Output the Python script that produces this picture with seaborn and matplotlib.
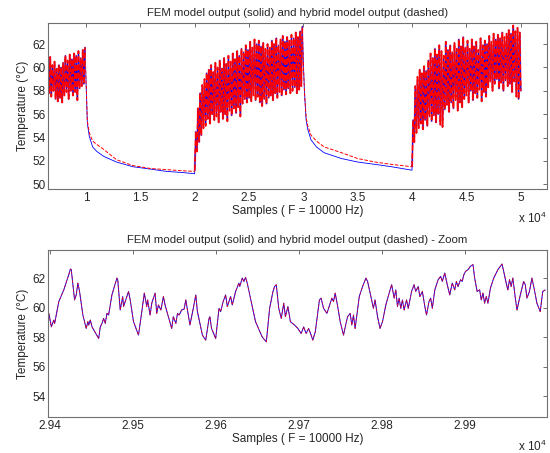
"""
FEM vs hybrid model temperature output, full run and zoomed window.
Values read off the reference figure.
"""

import numpy as np
import pandas as pd
import matplotlib
matplotlib.use('Agg')
import matplotlib.pyplot as plt
import seaborn as sns

# ---- top panel: noisy (heating) segments, 100-sample spacing, read as local peaks/dips
seg1_start = 6500
seg1_temp = [60.6, 57.8, 60.9, 57.5, 60.2, 58.0, 60.5, 57.3, 59.9, 57.1,
             60.2, 57.4, 60.0, 57.0, 60.4, 57.6, 61.0, 57.9, 60.6, 57.3,
             61.1, 58.0, 60.7, 57.6, 61.2, 57.9, 61.0, 57.2, 61.4, 58.2,
             60.8, 58.4, 61.5, 58.6, 61.7]

seg3_start = 20000
seg3_temp = [51.2, 54.5, 52.8, 56.5, 53.6, 57.8, 54.2, 58.5, 54.8, 59.0,
             55.0, 59.5, 55.6, 59.8, 55.2, 60.2, 56.0, 59.6, 55.5, 60.4,
             55.8, 60.0, 55.3, 60.6, 56.2, 59.9, 55.6, 60.8, 56.0, 60.3,
             55.4, 61.0, 56.3, 60.5, 55.9, 61.2, 56.5, 60.7, 56.1, 61.4,
             56.6, 61.0, 55.8, 61.6, 56.9, 61.3, 57.3, 61.9, 57.0, 61.5,
             57.4, 62.2, 57.1, 61.7, 57.6, 62.4, 57.2, 62.0, 57.5, 62.3,
             57.0, 61.8, 56.7, 62.1, 57.3, 61.6, 56.9, 62.0, 57.4, 61.7,
             57.6, 62.3, 57.2, 62.0, 57.8, 62.5, 57.4, 61.9, 57.9, 62.4,
             57.6, 62.7, 58.1, 62.2, 57.7, 62.6, 58.2, 62.3, 57.8, 62.8,
             58.0, 62.5, 58.3, 63.0, 57.8, 62.6, 58.1, 63.1, 58.4, 63.5]

seg5_start = 40000
seg5_temp = [51.5, 55.5, 53.6, 58.4, 54.4, 59.2, 54.8, 59.8, 55.2, 59.5,
             54.7, 60.1, 55.5, 59.7, 55.0, 60.6, 55.8, 61.2, 55.4, 60.8,
             55.9, 61.6, 55.3, 61.1, 56.0, 61.9, 55.1, 61.4, 54.9, 61.0,
             56.4, 62.2, 56.8, 61.5, 56.2, 61.9, 57.0, 61.3, 56.5, 62.1,
             57.2, 61.6, 56.3, 62.4, 57.0, 61.8, 56.6, 62.6, 57.3, 61.7,
             57.6, 62.3, 57.0, 61.6, 58.0, 62.4, 57.2, 61.8, 57.8, 62.2,
             57.4, 61.5, 58.1, 62.5, 57.1, 61.9, 57.9, 62.3, 57.5, 62.0,
             58.3, 62.7, 58.8, 62.2, 58.0, 62.9, 58.6, 62.4, 59.0, 62.8,
             58.2, 62.5, 58.7, 63.0, 58.0, 62.6, 58.9, 62.9, 58.4, 63.2,
             58.6, 62.9, 57.9, 63.6, 58.8, 63.1, 57.5, 63.4, 57.3, 63.0,
             58.0]

# ---- top panel: cooling segments (FEM solid, hybrid dashed)
cool1_samples = [10000, 10120, 10300, 10600, 11000, 11600, 12800, 14300, 15900, 17400, 18900, 19990]
cool1_fem = [58.8, 55.2, 54.1, 53.2, 52.8, 52.4, 51.9, 51.5, 51.3, 51.1, 51.0, 50.9]
cool1_hyb = [58.8, 55.4, 54.4, 53.7, 53.4, 53.0, 52.1, 51.6, 51.35, 51.25, 51.15, 51.1]

cool2_samples = [30000, 30100, 30250, 30400, 30700, 31200, 31900, 33500, 35000, 36600, 38100, 39990]
cool2_fem = [60.2, 57.8, 55.5, 54.7, 53.8, 53.2, 52.7, 52.2, 51.9, 51.7, 51.5, 51.2]
cool2_hyb = [60.2, 57.9, 55.7, 55.0, 54.2, 53.7, 53.2, 52.7, 52.2, 51.9, 51.7, 51.5]

# ---- bottom panel: zoomed window
zoom_samples = [29399, 29402, 29405, 29406, 29411, 29417, 29423, 29425, 29426, 29430,
                29432, 29434, 29436, 29440, 29444, 29446, 29447, 29449, 29451, 29459,
                29461, 29463, 29465, 29467, 29469, 29471, 29475, 29481, 29482, 29485,
                29488, 29489, 29495, 29497, 29501, 29507, 29511, 29514, 29517, 29518,
                29521, 29523, 29527, 29529, 29531, 29534, 29537, 29539, 29547, 29549,
                29552, 29554, 29556, 29559, 29562, 29564, 29567, 29569, 29573, 29576,
                29578, 29584, 29588, 29592, 29593, 29595, 29600, 29604, 29606, 29609,
                29612, 29614, 29618, 29620, 29624, 29628, 29629, 29632, 29634, 29636,
                29638, 29648, 29656, 29661, 29665, 29669, 29671, 29673, 29676, 29679,
                29682, 29684, 29687, 29690, 29695, 29699, 29703, 29706, 29709, 29712,
                29715, 29717, 29720, 29725, 29727, 29730, 29734, 29740, 29742, 29744,
                29747, 29750, 29754, 29757, 29759, 29762, 29764, 29766, 29768, 29773,
                29777, 29781, 29783, 29787, 29790, 29792, 29795, 29798, 29801, 29805,
                29809, 29812, 29815, 29817, 29819, 29821, 29823, 29825, 29827, 29830,
                29832, 29836, 29839, 29841, 29844, 29846, 29849, 29852, 29854, 29857,
                29859, 29861, 29864, 29868, 29871, 29873, 29876, 29879, 29882, 29885,
                29888, 29890, 29892, 29895, 29897, 29899, 29901, 29904, 29907, 29910,
                29912, 29915, 29918, 29920, 29922, 29924, 29926, 29928, 29931, 29935,
                29940, 29945, 29947, 29950, 29952, 29954, 29956, 29958, 29961, 29963,
                29967, 29971, 29973, 29975, 29978, 29981, 29984, 29987, 29991, 29994,
                29997]
zoom_fem = [59.61, 58.70, 59.16, 58.93, 60.41, 61.20, 62.23, 62.61, 62.57, 60.52,
            60.86, 61.66, 61.09, 59.50, 58.59, 59.05, 58.82, 59.16, 58.70, 57.91,
            58.70, 58.93, 59.27, 58.93, 59.61, 59.50, 60.86, 62.00, 61.89, 59.84,
            60.75, 60.07, 61.09, 60.52, 59.05, 58.14, 59.73, 60.98, 60.07, 60.52,
            59.50, 60.30, 60.98, 59.61, 60.18, 59.84, 60.75, 60.18, 58.59, 59.39,
            58.93, 59.61, 59.50, 59.84, 59.90, 60.52, 59.50, 58.82, 59.95, 60.86,
            59.73, 58.14, 57.80, 59.27, 59.39, 58.59, 57.91, 59.95, 59.73, 60.41,
            60.86, 60.07, 60.75, 60.18, 61.09, 61.66, 61.43, 62.00, 61.77, 62.05,
            61.66, 59.05, 58.02, 57.68, 59.95, 61.09, 61.43, 61.55, 59.95, 59.27,
            60.30, 59.39, 60.07, 59.05, 58.82, 58.59, 58.25, 58.70, 58.25, 58.59,
            58.14, 57.80, 58.36, 60.52, 60.64, 59.95, 59.61, 60.64, 60.41, 60.98,
            60.07, 59.05, 58.14, 58.93, 59.39, 59.61, 58.82, 59.50, 58.59, 60.75,
            61.43, 62.00, 61.77, 60.75, 59.95, 60.52, 59.39, 58.59, 59.05, 60.18,
            60.98, 61.55, 60.64, 61.20, 60.07, 60.64, 59.95, 60.52, 59.84, 60.52,
            59.95, 61.09, 61.55, 61.09, 61.43, 60.75, 61.09, 60.07, 59.50, 60.41,
            60.64, 59.95, 61.20, 61.89, 62.11, 61.77, 62.34, 61.55, 60.86, 61.66,
            61.20, 61.77, 61.43, 61.89, 61.77, 62.23, 62.45, 62.57, 62.80, 62.91,
            62.00, 61.09, 61.20, 60.52, 60.98, 60.30, 60.75, 60.30, 61.32, 62.00,
            62.57, 62.95, 62.45, 61.66, 61.20, 61.89, 61.43, 62.00, 60.64, 59.84,
            60.86, 61.77, 61.55, 60.64, 61.09, 62.00, 61.20, 60.30, 59.73, 61.09,
            61.20]
# the two models are indistinguishable at this scale
zoom_hyb = zoom_fem


def noisy(start, temps):
    return np.arange(start, start + 100 * len(temps), 100), np.array(temps)


s1, t1 = noisy(seg1_start, seg1_temp)
s3, t3 = noisy(seg3_start, seg3_temp)
s5, t5 = noisy(seg5_start, seg5_temp)

full_samples = np.concatenate([s1, cool1_samples, s3, cool2_samples, s5])
fem_full = np.concatenate([t1, cool1_fem, t3, cool2_fem, t5])
hyb_full = np.concatenate([t1, cool1_hyb, t3, cool2_hyb, t5])

df_top = pd.DataFrame({'sample': full_samples, 'fem': fem_full, 'hyb': hyb_full})
df_noise = [pd.DataFrame({'sample': s, 'temp': t}) for s, t in [(s1, t1), (s3, t3), (s5, t5)]]
df_zoom = pd.DataFrame({'sample': zoom_samples, 'fem': zoom_fem, 'hyb': zoom_hyb})

# ---- style (MATLAB look)
sns.set_style('white')
plt.rcParams['font.family'] = ['Liberation Sans', 'DejaVu Sans']
plt.rcParams['mathtext.fontset'] = 'custom'
plt.rcParams['mathtext.rm'] = 'Liberation Sans'

fig = plt.figure(figsize=(5.5, 4.53), dpi=100)
ax1 = fig.add_axes([0.0873, 0.583, 0.907, 0.366])
ax2 = fig.add_axes([0.0873, 0.0795, 0.907, 0.3687])

title = 'FEM model output (solid) and hybrid model output (dashed)'
xlabel = 'Samples ( F = 10000 Hz)'
ylabel = 'Temperature (\u00b0C)'

# top: whole run thin, then the dense heating parts again a bit heavier
sns.lineplot(data=df_top, x='sample', y='fem', ax=ax1, color='blue', lw=0.6,
             estimator=None, sort=False)
sns.lineplot(data=df_top, x='sample', y='hyb', ax=ax1, color='red', lw=0.7,
             linestyle='--', dashes=(4, 2), estimator=None, sort=False)
for d in df_noise:
    sns.lineplot(data=d, x='sample', y='temp', ax=ax1, color='#e06070', lw=1.6,
                 estimator=None, sort=False, alpha=0.55)
    sns.lineplot(data=d, x='sample', y='temp', ax=ax1, color='blue', lw=0.7,
                 estimator=None, sort=False)
    sns.lineplot(data=d, x='sample', y='temp', ax=ax1, color='red', lw=1.1,
                 linestyle='--', dashes=(4, 1.5), estimator=None, sort=False)

sns.lineplot(data=df_zoom, x='sample', y='fem', ax=ax2, color='blue', lw=0.7,
             estimator=None, sort=False)
sns.lineplot(data=df_zoom, x='sample', y='hyb', ax=ax2, color='red', lw=0.6,
             linestyle='--', dashes=(3, 2), estimator=None, sort=False, alpha=0.8)

# top axes
ax1.set_xlim(6500, 52400)
ax1.set_ylim(49.6, 63.8)
top_ticks = [10000, 15000, 20000, 25000, 30000, 35000, 40000, 45000, 50000]
ax1.set_xticks(top_ticks, ['1', '1.5', '2', '2.5', '3', '3.5', '4', '4.5', '5'])
ax1.set_yticks([50, 52, 54, 56, 58, 60, 62])
ax1.set_title(title, fontsize=8.2, pad=5)

# zoom axes
ax2.set_xlim(29398, 29999)
ax2.set_ylim(52.6, 63.9)
zoom_ticks = [29400, 29500, 29600, 29700, 29800, 29900]
ax2.set_xticks(zoom_ticks, ['2.94', '2.95', '2.96', '2.97', '2.98', '2.99'])
ax2.set_yticks([54, 56, 58, 60, 62])
ax2.set_title(title + ' - Zoom', fontsize=8.2, pad=5)

for ax in (ax1, ax2):
    ax.set_xlabel(xlabel, fontsize=8.5, labelpad=1)
    ax.set_ylabel(ylabel, fontsize=8.5, labelpad=2)
    ax.tick_params(direction='in', length=3, width=0.6, color='#555555',
                   top=True, right=True, labelsize=8.5, pad=2)
    for sp in ax.spines.values():
        sp.set_color('#707070')
        sp.set_linewidth(0.8)
    ax.text(1.0, -0.13, r'x 10$^{4}$', transform=ax.transAxes,
            ha='right', va='top', fontsize=8.5)

fig.savefig('out.png', dpi=100, facecolor='white')
